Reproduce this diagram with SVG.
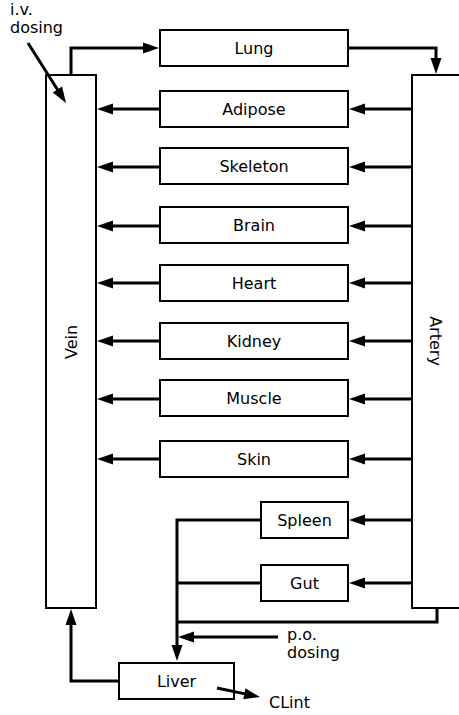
<svg xmlns="http://www.w3.org/2000/svg" width="459" height="715" viewBox="0 0 459 715">
<style>
.box{fill:#fff;stroke:#000;stroke-width:2}
.lbl{font-family:"DejaVu Sans",sans-serif;font-size:16px;fill:#000;text-anchor:middle}
.free{font-family:"DejaVu Sans",sans-serif;font-size:16px;fill:#000}
.c{fill:none;stroke:#000;stroke-width:3;marker-end:url(#ah)}
.n{fill:none;stroke:#000;stroke-width:3}
</style>
<defs>
<marker id="ah" markerUnits="userSpaceOnUse" markerWidth="16" markerHeight="12" refX="8" refY="5.5" orient="auto" overflow="visible">
<path d="M0,0 L16,5.5 L0,11 z" fill="#000"/>
</marker>
</defs>
<rect width="459" height="715" fill="#fff"/>
<g id="vein"><rect class="box" x="46" y="75" width="50" height="533"/><text class="lbl" transform="translate(77,342) rotate(-90)">Vein</text></g>
<g id="artery"><rect class="box" x="412" y="75" width="60" height="533"/><text class="lbl" transform="translate(430,341) rotate(90)">Artery</text></g>
<g id="lung"><rect class="box" x="160" y="30" width="188" height="36"/><text class="lbl" x="254" y="53.5">Lung</text></g>
<g id="adipose"><rect class="box" x="160" y="91" width="188" height="36"/><text class="lbl" x="254" y="114.5">Adipose</text></g>
<g id="skeleton"><rect class="box" x="160" y="148" width="188" height="36"/><text class="lbl" x="254" y="171.5">Skeleton</text></g>
<g id="brain"><rect class="box" x="160" y="207" width="188" height="36"/><text class="lbl" x="254" y="230.5">Brain</text></g>
<g id="heart"><rect class="box" x="160" y="265" width="188" height="36"/><text class="lbl" x="254" y="288.5">Heart</text></g>
<g id="kidney"><rect class="box" x="160" y="323" width="188" height="36"/><text class="lbl" x="254" y="346.5">Kidney</text></g>
<g id="muscle"><rect class="box" x="160" y="380" width="188" height="36"/><text class="lbl" x="254" y="403.5">Muscle</text></g>
<g id="skin"><rect class="box" x="160" y="441" width="188" height="36"/><text class="lbl" x="254" y="464.5">Skin</text></g>
<g id="spleen"><rect class="box" x="261" y="502" width="87" height="36"/><text class="lbl" x="304.5" y="525.5">Spleen</text></g>
<g id="gut"><rect class="box" x="261" y="565" width="87" height="36"/><text class="lbl" x="304.5" y="588.5">Gut</text></g>
<g id="liver"><rect class="box" x="119" y="663" width="115" height="36"/><text class="lbl" x="176.5" y="686.5">Liver</text></g>
<g id="iv-dosing"><text class="free" x="10" y="15">i.v.</text><text class="free" x="10" y="33">dosing</text></g>
<g id="po-dosing"><text class="free" x="287" y="640">p.o.</text><text class="free" x="287" y="658">dosing</text></g>
<g id="clint"><text class="free" x="269" y="708">CLint</text></g>
<g id="connectors">
<path class="c" d="M71,74 V48 H151"/>
<path class="c" d="M349,48 H436 V66"/>
<path class="c" d="M159,109 H105"/>
<path class="c" d="M159,167 H105"/>
<path class="c" d="M159,226 H105"/>
<path class="c" d="M159,283 H105"/>
<path class="c" d="M159,341 H105"/>
<path class="c" d="M159,399 H105"/>
<path class="c" d="M159,459 H105"/>
<path class="c" d="M411,109 H357"/>
<path class="c" d="M411,167 H357"/>
<path class="c" d="M411,226 H357"/>
<path class="c" d="M411,283 H357"/>
<path class="c" d="M411,341 H357"/>
<path class="c" d="M411,399 H357"/>
<path class="c" d="M411,459 H357"/>
<path class="c" d="M411,520 H357"/>
<path class="c" d="M411,583 H357"/>
<path class="c" d="M260,520 H177 V653"/>
<path class="n" d="M260,583 H177"/>
<path class="n" d="M437,609 V622 H177"/>
<path class="c" d="M278,637 H186"/>
<path class="c" d="M118,681 H71 V617"/>
<path class="c" d="M217,688 L252.2,695.4"/>
<path class="c" d="M28,43 L61.7,96.2"/>
</g>
</svg>
